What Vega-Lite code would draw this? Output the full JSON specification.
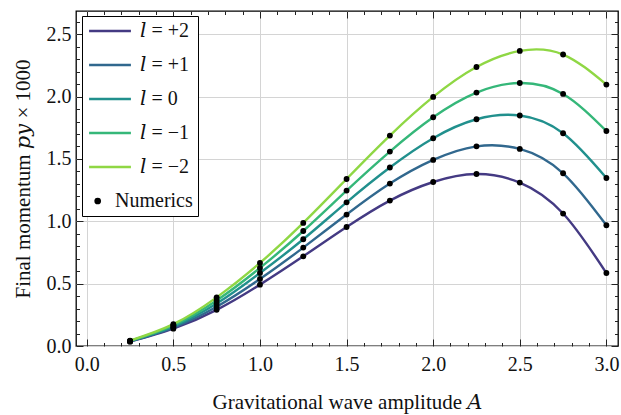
{
  "$schema": "https://vega.github.io/schema/vega-lite/v6.json",
  "width": 542,
  "height": 335,
  "autosize": {"type": "none"},
  "padding": {"left": 76, "top": 11, "right": 3, "bottom": 69},
  "config": {
    "font": "Liberation Serif",
    "view": {"stroke": "black", "strokeWidth": 1.3},
    "axis": {
      "domain": false,
      "tickColor": "#222222",
      "tickWidth": 1,
      "gridColor": "#d4d4d4",
      "gridWidth": 1,
      "labelFont": "Liberation Serif",
      "labelFontSize": 20,
      "labelColor": "#111111",
      "titleFont": "Liberation Serif, DejaVu Serif",
      "titleFontSize": 21,
      "titleFontWeight": "normal",
      "titleColor": "#111111"
    },
    "legend": {
      "labelFont": "Liberation Serif, DejaVu Serif",
      "labelFontSize": 20,
      "labelColor": "#111111"
    }
  },
  "data": {
    "values": [
      {"A": 0.25, "p": 0.035, "series": "𝑙 = +2"},
      {"A": 0.5, "p": 0.139, "series": "𝑙 = +2"},
      {"A": 0.75, "p": 0.29, "series": "𝑙 = +2"},
      {"A": 1.0, "p": 0.492, "series": "𝑙 = +2"},
      {"A": 1.25, "p": 0.719, "series": "𝑙 = +2"},
      {"A": 1.5, "p": 0.954, "series": "𝑙 = +2"},
      {"A": 1.75, "p": 1.166, "series": "𝑙 = +2"},
      {"A": 2.0, "p": 1.315, "series": "𝑙 = +2"},
      {"A": 2.25, "p": 1.379, "series": "𝑙 = +2"},
      {"A": 2.5, "p": 1.31, "series": "𝑙 = +2"},
      {"A": 2.75, "p": 1.062, "series": "𝑙 = +2"},
      {"A": 3.0, "p": 0.585, "series": "𝑙 = +2"},
      {"A": 0.25, "p": 0.037, "series": "𝑙 = +1"},
      {"A": 0.5, "p": 0.148, "series": "𝑙 = +1"},
      {"A": 0.75, "p": 0.315, "series": "𝑙 = +1"},
      {"A": 1.0, "p": 0.537, "series": "𝑙 = +1"},
      {"A": 1.25, "p": 0.789, "series": "𝑙 = +1"},
      {"A": 1.5, "p": 1.054, "series": "𝑙 = +1"},
      {"A": 1.75, "p": 1.302, "series": "𝑙 = +1"},
      {"A": 2.0, "p": 1.492, "series": "𝑙 = +1"},
      {"A": 2.25, "p": 1.601, "series": "𝑙 = +1"},
      {"A": 2.5, "p": 1.58, "series": "𝑙 = +1"},
      {"A": 2.75, "p": 1.385, "series": "𝑙 = +1"},
      {"A": 3.0, "p": 0.968, "series": "𝑙 = +1"},
      {"A": 0.25, "p": 0.039, "series": "𝑙 = 0"},
      {"A": 0.5, "p": 0.157, "series": "𝑙 = 0"},
      {"A": 0.75, "p": 0.34, "series": "𝑙 = 0"},
      {"A": 1.0, "p": 0.585, "series": "𝑙 = 0"},
      {"A": 1.25, "p": 0.856, "series": "𝑙 = 0"},
      {"A": 1.5, "p": 1.152, "series": "𝑙 = 0"},
      {"A": 1.75, "p": 1.431, "series": "𝑙 = 0"},
      {"A": 2.0, "p": 1.666, "series": "𝑙 = 0"},
      {"A": 2.25, "p": 1.818, "series": "𝑙 = 0"},
      {"A": 2.5, "p": 1.848, "series": "𝑙 = 0"},
      {"A": 2.75, "p": 1.706, "series": "𝑙 = 0"},
      {"A": 3.0, "p": 1.347, "series": "𝑙 = 0"},
      {"A": 0.25, "p": 0.041, "series": "𝑙 = −1"},
      {"A": 0.5, "p": 0.166, "series": "𝑙 = −1"},
      {"A": 0.75, "p": 0.365, "series": "𝑙 = −1"},
      {"A": 1.0, "p": 0.626, "series": "𝑙 = −1"},
      {"A": 1.25, "p": 0.922, "series": "𝑙 = −1"},
      {"A": 1.5, "p": 1.246, "series": "𝑙 = −1"},
      {"A": 1.75, "p": 1.559, "series": "𝑙 = −1"},
      {"A": 2.0, "p": 1.834, "series": "𝑙 = −1"},
      {"A": 2.25, "p": 2.032, "series": "𝑙 = −1"},
      {"A": 2.5, "p": 2.109, "series": "𝑙 = −1"},
      {"A": 2.75, "p": 2.021, "series": "𝑙 = −1"},
      {"A": 3.0, "p": 1.724, "series": "𝑙 = −1"},
      {"A": 0.25, "p": 0.043, "series": "𝑙 = −2"},
      {"A": 0.5, "p": 0.175, "series": "𝑙 = −2"},
      {"A": 0.75, "p": 0.39, "series": "𝑙 = −2"},
      {"A": 1.0, "p": 0.666, "series": "𝑙 = −2"},
      {"A": 1.25, "p": 0.987, "series": "𝑙 = −2"},
      {"A": 1.5, "p": 1.339, "series": "𝑙 = −2"},
      {"A": 1.75, "p": 1.687, "series": "𝑙 = −2"},
      {"A": 2.0, "p": 1.997, "series": "𝑙 = −2"},
      {"A": 2.25, "p": 2.237, "series": "𝑙 = −2"},
      {"A": 2.5, "p": 2.366, "series": "𝑙 = −2"},
      {"A": 2.75, "p": 2.337, "series": "𝑙 = −2"},
      {"A": 3.0, "p": 2.096, "series": "𝑙 = −2"}
    ]
  },
  "layer": [
    {
      "mark": {"type": "line", "interpolate": "natural", "strokeWidth": 2.4},
      "encoding": {
        "x": {
          "field": "A", "type": "quantitative",
          "scale": {"domain": [-0.062, 3.067], "nice": false, "zero": false},
          "axis": {
            "orient": "bottom",
            "title": "Gravitational wave amplitude 𝐴",
            "titlePadding": 14,
            "values": [0,0.1,0.2,0.3,0.4,0.5,0.6,0.7,0.8,0.9,1,1.1,1.2,1.3,1.4,1.5,1.6,1.7,1.8,1.9,2,2.1,2.2,2.3,2.4,2.5,2.6,2.7,2.8,2.9,3],
            "labelExpr": "abs(datum.value*2 - round(datum.value*2)) < 0.001 ? format(datum.value, '.1f') : ''",
            "grid": true,
            "gridOpacity": {"condition": {"test": "abs(datum.value*2 - round(datum.value*2)) < 0.001", "value": 1}, "value": 0},
            "tickSize": {"condition": {"test": "abs(datum.value*2 - round(datum.value*2)) < 0.001", "value": -7}, "value": -3.5},
            "labelPadding": 15,
            "labelFlush": false,
            "labelOverlap": false
          }
        },
        "y": {
          "field": "p", "type": "quantitative",
          "scale": {"domain": [0, 2.686], "nice": false, "zero": false},
          "axis": {
            "orient": "left",
            "title": "Final momentum 𝑝𝑦 × 1000",
            "titlePadding": 13,
            "values": [0,0.1,0.2,0.3,0.4,0.5,0.6,0.7,0.8,0.9,1,1.1,1.2,1.3,1.4,1.5,1.6,1.7,1.8,1.9,2,2.1,2.2,2.3,2.4,2.5,2.6],
            "labelExpr": "abs(datum.value*2 - round(datum.value*2)) < 0.001 ? format(datum.value, '.1f') : ''",
            "grid": true,
            "gridOpacity": {"condition": {"test": "abs(datum.value*2 - round(datum.value*2)) < 0.001", "value": 1}, "value": 0},
            "tickSize": {"condition": {"test": "abs(datum.value*2 - round(datum.value*2)) < 0.001", "value": -7}, "value": -3.5},
            "labelPadding": 12,
            "labelFlush": false,
            "labelOverlap": false
          }
        },
        "color": {
          "field": "series", "type": "nominal",
          "scale": {
            "domain": ["𝑙 = +2", "𝑙 = +1", "𝑙 = 0", "𝑙 = −1", "𝑙 = −2", "Numerics"],
            "range": ["#443a83", "#31688e", "#21908d", "#35b779", "#8fd744", "#000000"]
          },
          "legend": {
            "title": null,
            "orient": "none",
            "legendX": 6,
            "legendY": 5,
            "symbolType": "stroke",
            "symbolSize": 280,
            "symbolStrokeWidth": 2.6,
            "rowPadding": 14,
            "padding": 5,
            "strokeColor": "#000000",
            "fillColor": "#ffffff",
            "cornerRadius": 0,
            "encode": {
              "symbols": {
                "update": {
                  "shape": {"signal": "datum.value === 'Numerics' ? 'circle' : 'M-2.5,0L2.5,0'"},
                  "size": {"signal": "datum.value === 'Numerics' ? 45 : 280"},
                  "fill": {"signal": "datum.value === 'Numerics' ? '#000000' : 'transparent'"},
                  "strokeWidth": {"signal": "datum.value === 'Numerics' ? 0 : 2.6"},
                  "x": {"signal": "datum.value === 'Numerics' ? 10.7 : 23"}
                }
              },
              "labels": {
                "update": {
                  "x": {"signal": "datum.value === 'Numerics' ? 28 : 53"}
                }
              }
            }
          }
        }
      }
    },
    {
      "mark": {"type": "point", "filled": true, "color": "#000000", "size": 34, "opacity": 1},
      "encoding": {
        "x": {
          "field": "A", "type": "quantitative",
          "scale": {"domain": [-0.062, 3.067], "nice": false, "zero": false},
          "axis": {
            "orient": "top",
            "title": null,
            "labels": false,
            "grid": false,
            "values": [0,0.1,0.2,0.3,0.4,0.5,0.6,0.7,0.8,0.9,1,1.1,1.2,1.3,1.4,1.5,1.6,1.7,1.8,1.9,2,2.1,2.2,2.3,2.4,2.5,2.6,2.7,2.8,2.9,3],
            "tickSize": {"condition": {"test": "abs(datum.value*2 - round(datum.value*2)) < 0.001", "value": -7}, "value": -3.5}
          }
        },
        "y": {
          "field": "p", "type": "quantitative",
          "scale": {"domain": [0, 2.686], "nice": false, "zero": false},
          "axis": {
            "orient": "right",
            "title": null,
            "labels": false,
            "grid": false,
            "values": [0,0.1,0.2,0.3,0.4,0.5,0.6,0.7,0.8,0.9,1,1.1,1.2,1.3,1.4,1.5,1.6,1.7,1.8,1.9,2,2.1,2.2,2.3,2.4,2.5,2.6],
            "tickSize": {"condition": {"test": "abs(datum.value*2 - round(datum.value*2)) < 0.001", "value": -7}, "value": -3.5}
          }
        }
      }
    }
  ],
  "resolve": {"axis": {"x": "independent", "y": "independent"}}
}
